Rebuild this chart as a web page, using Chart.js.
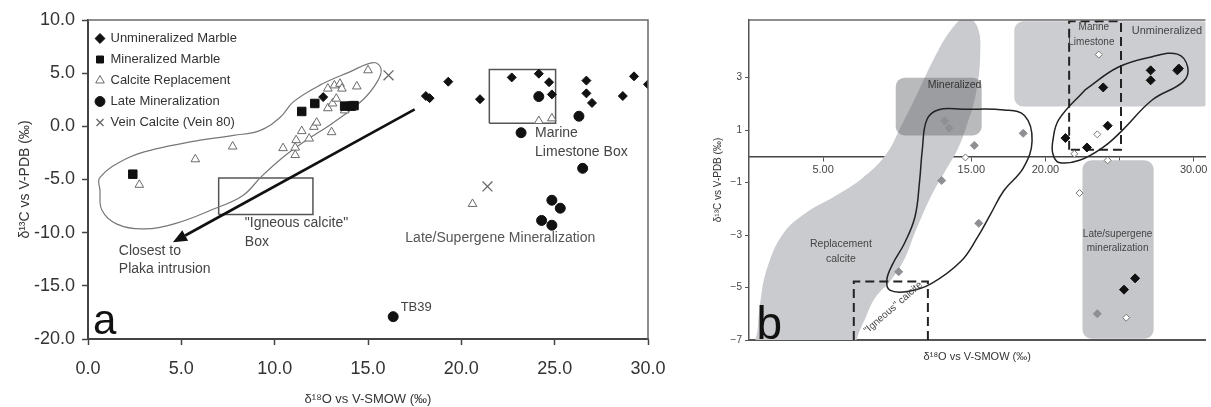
<!DOCTYPE html>
<html>
<head>
<meta charset="utf-8">
<title>δ18O vs δ13C</title>
<script src="https://cdn.jsdelivr.net/npm/chart.js@4.4.1/dist/chart.umd.min.js"></script>
<style>
  body { margin: 0; background: #fff; }
  .panel { position: absolute; top: 0; height: 407px; }
  #panelA { left: 0; width: 690px; }
  #panelB { left: 690px; width: 521px; }
</style>
</head>
<body>
<div class="panel" id="panelA"><canvas id="chartA"></canvas></div>
<div class="panel" id="panelB"><canvas id="chartB"></canvas></div>
<script>
// ---- panel a: [δ18O, δ13C] ----
const unmineralizedMarble = [[12.6, 2.75], [18.1, 2.85], [18.3, 2.65], [19.3, 4.2], [21.0, 2.55], [22.7, 4.6], [24.15, 4.95], [24.7, 4.15], [24.85, 3.0], [26.7, 4.3], [26.7, 3.1], [27.0, 2.2], [28.65, 2.85], [29.25, 4.7], [30.0, 3.95]]
const mineralizedMarble = [[2.4, -4.5], [11.45, 1.4], [12.15, 2.15], [13.75, 1.9], [14.1, 1.9], [14.25, 1.95]]
const calciteReplacement = [[2.75, -5.5], [5.75, -3.1], [7.75, -1.9], [10.45, -2.05], [11.1, -2.7], [11.1, -2.0], [11.15, -1.3], [11.45, -0.45], [11.85, -1.15], [12.1, -0.05], [12.25, 0.35], [13.05, -0.55], [12.85, 1.7], [13.1, 2.15], [13.3, 2.6], [13.75, 1.5], [12.85, 3.55], [13.2, 3.85], [13.5, 4.0], [13.6, 3.55], [14.4, 3.75], [15.0, 5.27], [24.15, 0.5], [24.85, 0.75], [20.6, -7.3]]
const lateMineralization = [[24.15, 2.8], [23.2, -0.6], [26.3, 0.95], [26.5, -3.95], [24.85, -6.95], [25.3, -7.7], [24.3, -8.85], [24.85, -9.3], [16.35, -17.9]]
const veinCalcite = [[16.1, 4.8], [21.4, -5.65]]
const calciteFieldA = [[6.0, -1.3], [7.8, -0.85], [9.2, -0.4], [10.3, 0.85], [11.0, 2.3], [12.4, 3.85], [14.0, 5.1], [15.3, 6.0], [15.7, 5.4], [15.5, 4.2], [14.7, 2.45], [13.1, 0.3], [11.7, -1.3], [10.45, -2.9], [9.3, -4.7], [8.3, -6.5], [6.7, -7.8], [4.75, -9.1], [2.95, -9.65], [1.55, -9.2], [0.75, -7.9], [0.64, -6.0], [0.64, -4.8], [2.1, -3.0], [3.7, -2.1], [6.0, -1.3]]
const marineBoxA = { x: [21.5, 25.05], y: [0.3, 5.35] }
const igneousBoxA = { x: [7.0, 12.05], y: [-8.3, -4.85] }
const plakaArrow = [[17.5, 1.6], [4.55, -10.9]]
const aXTicks = [0, 5, 10, 15, 20, 25, 30]
const aYTicks = [-20, -15, -10, -5, 0, 5, 10]

// ---- panel b ----
const bUnmineralized = [[27.1, 3.28], [27.1, 2.9], [28.9, 3.28], [29.0, 3.35], [23.9, 2.63], [24.2, 1.17], [21.35, 0.7], [22.8, 0.34], [26.05, -4.65], [25.3, -5.08]]
const bCalcite = [[13.2, 1.35], [13.5, 1.08], [15.2, 0.42], [18.5, 0.88], [13.0, -0.92], [15.5, -2.55], [10.1, -4.4], [23.5, -6.0]]
const bOther = [[23.6, 3.88], [23.5, 0.84], [21.95, 0.1], [24.2, -0.15], [14.6, -0.04], [22.3, -1.4], [25.45, -6.15]]
const replacementBandB = [[3.5, -7.6], [0.55, -7.5], [0.6, -6.5], [0.75, -5.6], [1.2, -4.3], [2.3, -2.95], [3.85, -2.15], [5.85, -1.5], [7.6, -0.85], [9.2, 0.04], [10.3, 1.2], [11.4, 2.45], [12.5, 3.75], [13.6, 4.8], [14.6, 5.3], [15.4, 4.95], [15.6, 3.9], [15.3, 2.35], [14.7, 1.2], [14.1, 0.3], [13.2, -0.6], [12.3, -1.5], [11.2, -2.9], [10.5, -3.9], [9.6, -4.7], [8.5, -5.4], [7.9, -6.1], [7.3, -6.9], [7.0, -7.6], [3.5, -7.6]]
const calciteLoopB = [[14.5, 1.8], [17.2, 1.77], [18.6, 1.55], [19.1, 0.6], [18.5, -0.45], [17.2, -1.3], [16.3, -2.2], [15.4, -3.1], [14.3, -4.0], [12.3, -4.85], [10.7, -5.15], [9.5, -5.1], [9.3, -4.7], [9.7, -4.1], [10.5, -3.3], [11.2, -2.3], [11.5, -1.0], [11.7, 0.3], [12.0, 1.4], [12.8, 1.78], [14.5, 1.8]]
const marbleLoopB = [[22.7, 2.55], [24.9, 3.4], [27.2, 3.8], [28.9, 3.9], [29.6, 3.4], [29.3, 2.85], [27.2, 2.15], [25.2, 1.0], [23.9, 0.35], [22.3, -0.15], [20.9, -0.23], [20.5, 0.1], [20.5, 0.6], [20.9, 1.4], [22.7, 2.55]]
const mineralizedBoxB = { x: [9.9, 15.7], y: [0.8, 3.0] }
const unmineralizedBoxB = { x: [17.9, 31.2], y: [1.9, 5.15] }
const lateBoxB = { x: [22.5, 27.3], y: [-6.95, -0.15] }
const marineBoxB = { x: [21.6, 25.1], y: [0.25, 5.15] }
const igneousLinesB = [[7.07, -7], [7.07, -4.77], [12.07, -4.77], [12.07, -7]]
const bXTicks = [5, 10, 15, 20, 25, 30]
const bYTicks = [-7, -5, -3, -1, 1, 3]

const FONT = "'Liberation Sans', Arial, sans-serif"
Chart.defaults.font.family = FONT
Chart.defaults.color = '#333'

const xy = arr => arr.map(([x, y]) => ({ x, y }))
const rect = b => xy([[b.x[0], b.y[0]], [b.x[0], b.y[1]], [b.x[1], b.y[1]], [b.x[1], b.y[0]], [b.x[0], b.y[0]]])
const setTicks = list => s => { s.ticks = list.map(value => ({ value })) }
const fixWidth = w => s => { s.width = w; s.paddingTop = 0; s.paddingBottom = 0 }
const fixHeight = h => s => { s.height = h; s.paddingLeft = 0; s.paddingRight = 0 }
const shape = (data, extra) => Object.assign({ type: 'line', data, pointRadius: 0, fill: false, order: 5 }, extra)

// boxes, frame, arrow and text drawn on top of the scales
const overlay = spec => ({
  id: 'overlay',
  afterDatasetDraw(chart, args) {
    if (!spec.boxes || args.index !== spec.boxesAfter) return
    const { ctx, chartArea: a, scales: { x, y } } = chart
    ctx.save()
    ctx.beginPath()
    ctx.rect(a.left, a.top, a.width, a.height)
    ctx.clip()
    spec.boxes.forEach(([b, color]) => {
      const l = x.getPixelForValue(b.x[0]), r = x.getPixelForValue(b.x[1])
      const t = y.getPixelForValue(b.y[1]), bt = y.getPixelForValue(b.y[0])
      ctx.beginPath()
      ctx.roundRect(l, t, r - l, bt - t, 9)
      ctx.fillStyle = color
      ctx.fill()
    })
    ctx.restore()
  },
  afterDatasetsDraw(chart) {
    const { ctx, chartArea: a, scales: { x, y } } = chart
    ctx.save()
    ctx.strokeStyle = '#6a6a6a'
    ctx.lineWidth = 1.5
    ctx.beginPath()
    ctx.moveTo(a.left, a.top)
    ctx.lineTo(a.right, a.top)
    if (spec.rightEdge) ctx.lineTo(a.right, a.bottom)
    ctx.stroke()

    if (spec.arrow) {
      const [p0, p1] = spec.arrow.map(([vx, vy]) => [x.getPixelForValue(vx), y.getPixelForValue(vy)])
      const ang = Math.atan2(p1[1] - p0[1], p1[0] - p0[0])
      const len = 14, hw = 6
      const bx = p1[0] - len * Math.cos(ang), by = p1[1] - len * Math.sin(ang)
      ctx.strokeStyle = '#111'
      ctx.fillStyle = '#111'
      ctx.lineWidth = 2.6
      ctx.beginPath()
      ctx.moveTo(p0[0], p0[1])
      ctx.lineTo(bx, by)
      ctx.stroke()
      ctx.beginPath()
      ctx.moveTo(p1[0], p1[1])
      ctx.lineTo(bx + hw * Math.sin(ang), by - hw * Math.cos(ang))
      ctx.lineTo(bx - hw * Math.sin(ang), by + hw * Math.cos(ang))
      ctx.closePath()
      ctx.fill()
    }

    spec.labels.forEach(l => {
      ctx.save()
      ctx.translate(x.getPixelForValue(l.at[0]), y.getPixelForValue(l.at[1]))
      if (l.rot) ctx.rotate(l.rot * Math.PI / 180)
      ctx.font = `${l.size}px ${FONT}`
      ctx.fillStyle = l.color || '#444'
      ctx.textAlign = l.align || 'left'
      ctx.textBaseline = l.base || 'middle'
      ctx.fillText(l.text, 0, 0)
      ctx.restore()
    })
    ctx.restore()
  }
})

new Chart(document.getElementById('chartA'), {
  type: 'scatter',
  data: {
    datasets: [
      { label: 'Unmineralized Marble', data: xy(unmineralizedMarble), pointStyle: 'rectRot', pointRadius: 4.5, backgroundColor: '#111', borderColor: '#111', borderWidth: 1, order: 0 },
      { label: 'Mineralized Marble', data: xy(mineralizedMarble), pointStyle: 'rect', pointRadius: 6, backgroundColor: '#111', borderColor: '#111', borderWidth: 1, order: 0 },
      { label: 'Calcite Replacement', data: xy(calciteReplacement), pointStyle: 'triangle', pointRadius: 5, backgroundColor: '#fff', borderColor: '#6a6a6a', borderWidth: 1, order: 0 },
      { label: 'Late Mineralization', data: xy(lateMineralization), pointStyle: 'circle', pointRadius: 5, backgroundColor: '#111', borderColor: '#111', borderWidth: 1, order: 0 },
      { label: 'Vein Calcite (Vein 80)', data: xy(veinCalcite), pointStyle: 'crossRot', pointRadius: 7, backgroundColor: '#666', borderColor: '#666', borderWidth: 1.3, order: 0 },
      shape(xy(calciteFieldA), { label: 'field', borderColor: '#777', borderWidth: 1.2, tension: 0.4 }),
      shape(rect(marineBoxA), { label: 'marine box', borderColor: '#555', borderWidth: 1.5 }),
      shape(rect(igneousBoxA), { label: 'igneous box', borderColor: '#555', borderWidth: 1.5 })
    ]
  },
  options: {
    responsive: true,
    maintainAspectRatio: false,
    animation: false,
    events: [],
    layout: { padding: { top: 20, right: 42, left: 0, bottom: 0 } },
    plugins: {
      tooltip: { enabled: false },
      legend: {
        position: 'chartArea',
        align: 'start',
        // empty title only pushes the list down below the frame
        title: { display: true, text: ' ', font: { size: 10 }, padding: { top: 6, bottom: 6 } },
        labels: {
          usePointStyle: true,
          boxWidth: 8,
          boxHeight: 7,
          padding: 8,
          color: '#333',
          font: { size: 13 },
          filter: item => item.datasetIndex < 5
        }
      }
    },
    scales: {
      x: {
        type: 'linear', min: 0, max: 30,
        afterBuildTicks: setTicks(aXTicks),
        afterFit: fixHeight(68),
        ticks: { callback: v => v.toFixed(1), font: { size: 18 }, color: '#333', padding: 13, maxRotation: 0, autoSkip: false },
        grid: { drawOnChartArea: false, tickLength: 6, tickWidth: 1.5, tickColor: '#444' },
        border: { width: 2, color: '#444' },
        title: { display: true, text: 'δ¹⁸O vs V-SMOW (‰)', font: { size: 13 }, color: '#333', padding: { top: 0, bottom: 0 } }
      },
      y: {
        type: 'linear', min: -20, max: 10,
        afterBuildTicks: setTicks(aYTicks),
        afterFit: fixWidth(88),
        ticks: { callback: v => v.toFixed(1), font: { size: 18 }, color: '#333', padding: 7, autoSkip: false },
        grid: { drawOnChartArea: false, tickLength: 6, tickWidth: 1.5, tickColor: '#444' },
        border: { width: 2, color: '#444' },
        title: { display: true, text: 'δ¹³C vs V-PDB (‰)', font: { size: 14 }, color: '#333', padding: { top: 17, bottom: 0 } }
      }
    }
  },
  plugins: [overlay({
    rightEdge: true,
    arrow: plakaArrow,
    labels: [
      { text: 'Marine', at: [23.95, -0.65], size: 14 },
      { text: 'Limestone Box', at: [23.95, -2.45], size: 14 },
      { text: '"Igneous calcite"', at: [8.4, -9.1], size: 14 },
      { text: 'Box', at: [8.4, -10.9], size: 14 },
      { text: 'Closest to', at: [1.65, -11.75], size: 14 },
      { text: 'Plaka intrusion', at: [1.65, -13.45], size: 14 },
      { text: 'Late/Supergene Mineralization', at: [17.0, -10.55], size: 14, color: '#555' },
      { text: 'TB39', at: [16.75, -17.0], size: 13 },
      { text: 'a', at: [0.27, -19.5], size: 42, base: 'alphabetic', color: '#111' }
    ]
  })]
})

new Chart(document.getElementById('chartB'), {
  type: 'scatter',
  data: {
    datasets: [
      { label: 'unmineralized', data: xy(bUnmineralized), pointStyle: 'rectRot', pointRadius: 4.5, backgroundColor: '#111', borderColor: '#111', borderWidth: 1, order: 0 },
      { label: 'calcite', data: xy(bCalcite), pointStyle: 'rectRot', pointRadius: 4, backgroundColor: '#8d8f92', borderColor: '#8d8f92', borderWidth: 1, order: 0 },
      { label: 'other', data: xy(bOther), pointStyle: 'rectRot', pointRadius: 3.5, backgroundColor: '#fff', borderColor: '#777', borderWidth: 1, order: 0 },
      shape(xy(replacementBandB), { label: 'replacement band', fill: 'shape', backgroundColor: '#c9cbce', borderColor: 'transparent', borderWidth: 0, tension: 0.4, order: 20 }),
      shape(xy(calciteLoopB), { label: 'calcite loop', borderColor: '#222', borderWidth: 1.5, tension: 0.4 }),
      shape(xy(marbleLoopB), { label: 'marble loop', borderColor: '#222', borderWidth: 1.5, tension: 0.4 }),
      shape(rect(marineBoxB), { label: 'marine box', borderColor: '#222', borderWidth: 2, borderDash: [9, 5] }),
      shape(xy(igneousLinesB), { label: 'igneous box', borderColor: '#222', borderWidth: 2, borderDash: [9, 5] })
    ]
  },
  options: {
    responsive: true,
    maintainAspectRatio: false,
    animation: false,
    events: [],
    layout: { padding: { top: 20, right: 0, left: 0, bottom: 0 } },
    plugins: { tooltip: { enabled: false }, legend: { display: false } },
    scales: {
      x: {
        type: 'linear', min: 0, max: 30.8,
        afterFit: fixHeight(67),
        ticks: { display: false },
        grid: { display: false },
        border: { width: 2, color: '#555' },
        title: { display: true, text: 'δ¹⁸O vs V-SMOW (‰)', font: { size: 11 }, color: '#333', padding: { top: 0, bottom: 43 } }
      },
      xz: {
        type: 'linear', axis: 'x', position: { y: 0 }, min: 0, max: 30.8,
        afterBuildTicks: setTicks(bXTicks),
        afterFit: s => { s.height = 0; s.paddingLeft = 0; s.paddingRight = 0 },
        ticks: { callback: v => v.toFixed(2), font: { size: 11 }, color: '#444', padding: 3, maxRotation: 0, autoSkip: false },
        grid: { drawOnChartArea: false, tickLength: 4, tickColor: '#555' },
        border: { width: 1.5, color: '#444' }
      },
      y: {
        type: 'linear', min: -7, max: 5.2,
        afterBuildTicks: setTicks(bYTicks),
        afterFit: fixWidth(59),
        ticks: { callback: v => (v < 0 ? '−' + (-v) : String(v)), font: { size: 10 }, color: '#444', padding: 3, autoSkip: false },
        grid: { drawOnChartArea: false, tickLength: 4, tickColor: '#555' },
        border: { width: 1.5, color: '#555' },
        title: { display: true, text: 'δ¹³C vs V-PDB (‰)', font: { size: 10 }, color: '#333', padding: { top: 22, bottom: 0 } }
      }
    }
  },
  plugins: [overlay({
    rightEdge: false,
    boxesAfter: 3,
    boxes: [
      [unmineralizedBoxB, '#cbcdd0'],
      [lateBoxB, '#c4c6c9'],
      [mineralizedBoxB, 'rgba(100, 102, 105, 0.45)']
    ],
    labels: [
      { text: 'Mineralized', at: [13.87, 2.73], size: 10.5, align: 'center', color: '#333' },
      { text: 'Marine', at: [23.27, 4.92], size: 10, align: 'center' },
      { text: 'Limestone', at: [23.1, 4.35], size: 10, align: 'center' },
      { text: 'Unmineralized', at: [28.2, 4.8], size: 11, align: 'center' },
      { text: 'Replacement', at: [6.2, -3.35], size: 10.5, align: 'center' },
      { text: 'calcite', at: [6.2, -3.92], size: 10.5, align: 'center' },
      { text: 'Late/supergene', at: [24.87, -2.96], size: 10, align: 'center' },
      { text: 'mineralization', at: [24.87, -3.5], size: 10, align: 'center' },
      { text: '"Igneous" calcite', at: [9.73, -5.77], size: 10, align: 'center', rot: -41 },
      { text: 'b', at: [0.5, -6.96], size: 46, base: 'alphabetic', color: '#111' }
    ]
  })]
})
</script>
</body>
</html>
